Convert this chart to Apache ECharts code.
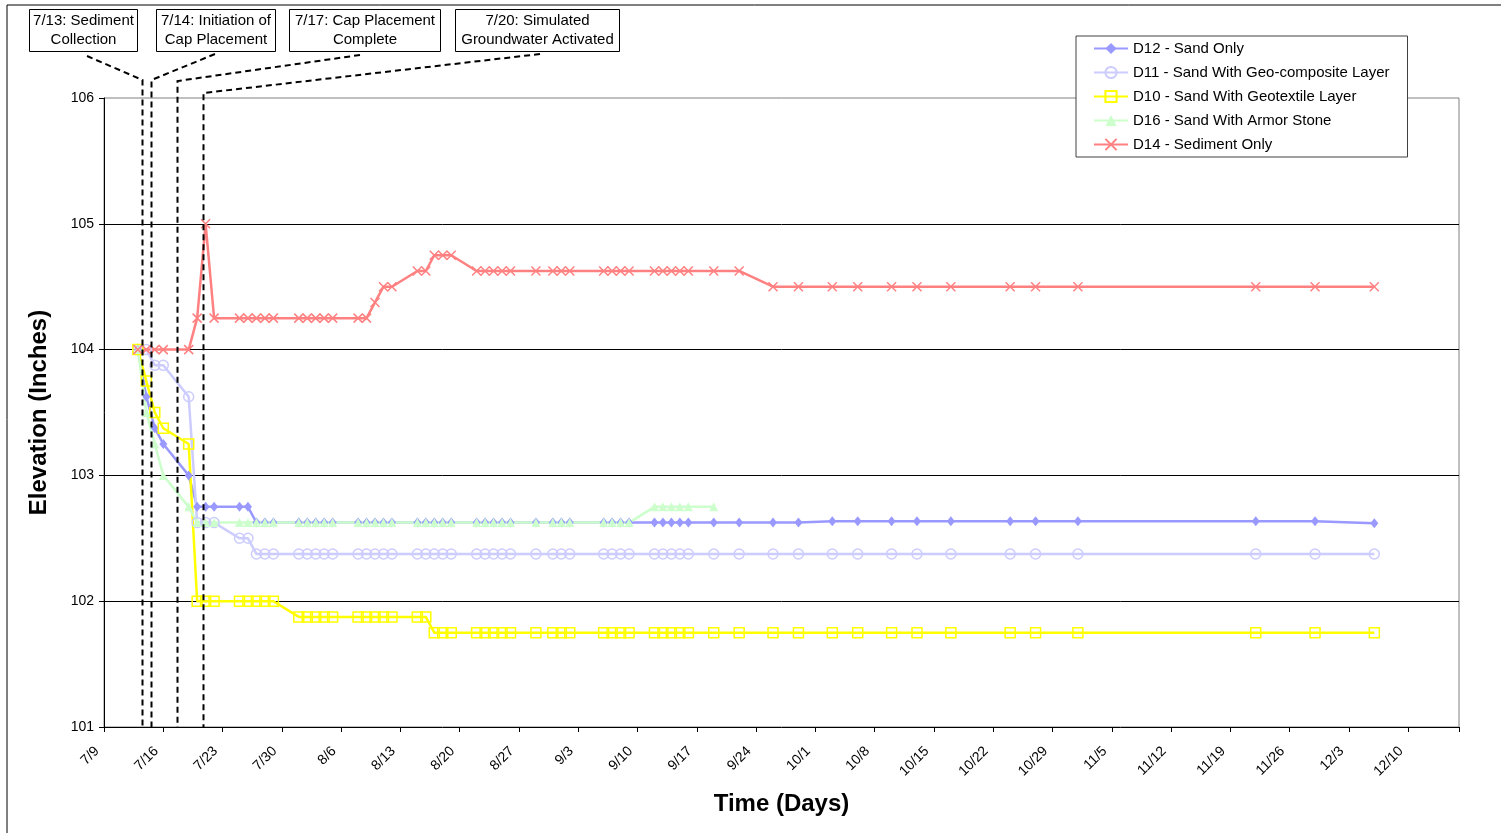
<!DOCTYPE html>
<html>
<head>
<meta charset="utf-8">
<script src="https://cdn.jsdelivr.net/npm/echarts@6/dist/echarts.min.js"></script>
<style>
html, body { margin: 0; padding: 0; background: #fff; }
#chart { width: 1501px; height: 833px; }
</style>
</head>
<body>
<div id="chart"></div>
<script>
// sample dates (2005), x axis counts days from 7/9
var startDate = Date.UTC(2005, 6, 9);
var sampleDates = ['7/13','7/14','7/15','7/16','7/19','7/20','7/21','7/22',
	'7/25','7/26','7/27','7/28','7/29','8/1','8/2','8/3','8/4','8/5',
	'8/8','8/9','8/10','8/11','8/12','8/15','8/16','8/17','8/18','8/19',
	'8/22','8/23','8/24','8/25','8/26','8/29','8/31','9/1','9/2',
	'9/6','9/7','9/8','9/9','9/12','9/13','9/14','9/15','9/16',
	'9/19','9/22','9/26','9/29','10/3','10/6','10/10','10/13','10/17',
	'10/24','10/27','11/1','11/22','11/29','12/6'];

var d12 = [104, 103.625, 103.375, 103.25, 103, 102.75, 102.75, 102.75,
	102.75, 102.75, 102.625, 102.625, 102.625, 102.625, 102.625, 102.625, 102.625, 102.625,
	102.625, 102.625, 102.625, 102.625, 102.625, 102.625, 102.625, 102.625, 102.625, 102.625,
	102.625, 102.625, 102.625, 102.625, 102.625, 102.625, 102.625, 102.625, 102.625,
	102.625, 102.625, 102.625, 102.625, 102.625, 102.625, 102.625, 102.625, 102.625,
	102.625, 102.625, 102.625, 102.625, 102.635, 102.635, 102.635, 102.635, 102.635,
	102.635, 102.635, 102.635, 102.635, 102.635, 102.62];
var d11 = [104, 104, 103.875, 103.875, 103.625, 102.625, 102.625, 102.625,
	102.5, 102.5, 102.375, 102.375, 102.375, 102.375, 102.375, 102.375, 102.375, 102.375,
	102.375, 102.375, 102.375, 102.375, 102.375, 102.375, 102.375, 102.375, 102.375, 102.375,
	102.375, 102.375, 102.375, 102.375, 102.375, 102.375, 102.375, 102.375, 102.375,
	102.375, 102.375, 102.375, 102.375, 102.375, 102.375, 102.375, 102.375, 102.375,
	102.375, 102.375, 102.375, 102.375, 102.375, 102.375, 102.375, 102.375, 102.375,
	102.375, 102.375, 102.375, 102.375, 102.375, 102.375];
var d10 = [104, 103.75, 103.5, 103.375, 103.25, 102, 102, 102,
	102, 102, 102, 102, 102, 101.875, 101.875, 101.875, 101.875, 101.875,
	101.875, 101.875, 101.875, 101.875, 101.875, 101.875, 101.875, 101.75, 101.75, 101.75,
	101.75, 101.75, 101.75, 101.75, 101.75, 101.75, 101.75, 101.75, 101.75,
	101.75, 101.75, 101.75, 101.75, 101.75, 101.75, 101.75, 101.75, 101.75,
	101.75, 101.75, 101.75, 101.75, 101.75, 101.75, 101.75, 101.75, 101.75,
	101.75, 101.75, 101.75, 101.75, 101.75, 101.75];
var d16 = [104, 103.5, 103.25, 103, 102.75, 102.625, 102.625, 102.625,
	102.625, 102.625, 102.625, 102.625, 102.625, 102.625, 102.625, 102.625, 102.625, 102.625,
	102.625, 102.625, 102.625, 102.625, 102.625, 102.625, 102.625, 102.625, 102.625, 102.625,
	102.625, 102.625, 102.625, 102.625, 102.625, 102.625, 102.625, 102.625, 102.625,
	102.625, 102.625, 102.625, 102.625, 102.75, 102.75, 102.75, 102.75, 102.75,
	102.75, null, null, null, null, null, null, null, null,
	null, null, null, null, null, null];
var d14 = [104, 104, 104, 104, 104, 104.25, 105, 104.25,
	104.25, 104.25, 104.25, 104.25, 104.25, 104.25, 104.25, 104.25, 104.25, 104.25,
	104.25, 104.25, 104.375, 104.5, 104.5, 104.625, 104.625, 104.75, 104.75, 104.75,
	104.625, 104.625, 104.625, 104.625, 104.625, 104.625, 104.625, 104.625, 104.625,
	104.625, 104.625, 104.625, 104.625, 104.625, 104.625, 104.625, 104.625, 104.625,
	104.625, 104.625, 104.5, 104.5, 104.5, 104.5, 104.5, 104.5, 104.5,
	104.5, 104.5, 104.5, 104.5, 104.5, 104.5];

var seriesNames = ['D12 - Sand Only', 'D11 - Sand With Geo-composite Layer',
	'D10 - Sand With Geotextile Layer', 'D16 - Sand With Armor Stone', 'D14 - Sediment Only'];

// event markers (days after 7/9) and their notes
var eventDays = [4.45, 5.5, 8.65, 11.7];
var eventText = ['7/13: Sediment\nCollection', '7/14: Initiation of\nCap Placement',
	'7/17: Cap Placement\nComplete', '7/20: Simulated\nGroundwater Activated'];

function dayOf(md) {
	var p = md.split('/');
	return Math.round((Date.UTC(2005, p[0] - 1, +p[1]) - startDate) / 86400000);
}
function labelOf(day) {
	var d = new Date(startDate + day * 86400000);
	return (d.getUTCMonth() + 1) + '/' + d.getUTCDate();
}
function pairs(vals) {
	return sampleDates.map(function (s, i) { return [dayOf(s), vals[i]]; });
}

var font = 'Liberation Sans, Arial, sans-serif';
var chart = echarts.init(document.getElementById('chart'));

function lineSeries(name, vals, color, symbol, size, filled) {
	return {
		name: name,
		type: 'line',
		data: pairs(vals),
		symbol: symbol,
		symbolSize: size,
		showAllSymbol: true,
		connectNulls: false,
		animation: false,
		lineStyle: { color: color, width: 2.5 },
		itemStyle: filled ?
			{ color: color, borderColor: color, borderWidth: 0 } :
			{ color: 'rgba(255,255,255,0)', borderColor: color, borderWidth: 1.5 },
		emphasis: { disabled: true }
	};
}

var option = {
	backgroundColor: '#fff',
	animation: false,
	textStyle: { fontFamily: font },
	grid: { left: 104, right: 42, top: 98, bottom: 106, show: true, borderColor: '#808080', borderWidth: 1 },
	legend: {
		orient: 'vertical',
		left: 1076,
		top: 36,
		padding: [5, 18, 5, 17],
		itemGap: 9,
		itemWidth: 34,
		itemHeight: 14,
		backgroundColor: '#fff',
		borderColor: '#404040',
		borderWidth: 1,
		borderRadius: 0,
		textStyle: { fontFamily: font, fontSize: 15, color: '#000' },
		data: seriesNames
	},
	xAxis: {
		type: 'value',
		min: 0,
		max: 160,
		interval: 7,
		name: 'Time (Days)',
		nameLocation: 'middle',
		nameGap: 65,
		nameTextStyle: { fontFamily: font, fontSize: 24, fontWeight: 'bold', color: '#000' },
		axisLine: { lineStyle: { color: '#000', width: 1 } },
		axisTick: { show: true, length: 5, lineStyle: { color: '#000' } },
		axisLabel: {
			rotate: 45,
			margin: 15,
			padding: [0, 10, 0, 0],
			fontFamily: font,
			fontSize: 14,
			color: '#000',
			formatter: function (v) { return v % 7 === 0 ? labelOf(v) : ''; }
		},
		splitLine: { show: false }
	},
	yAxis: {
		type: 'value',
		min: 101,
		max: 106,
		interval: 1,
		name: 'Elevation (Inches)',
		nameLocation: 'middle',
		nameGap: 53,
		nameTextStyle: { fontFamily: font, fontSize: 24, fontWeight: 'bold', color: '#000' },
		axisLine: { show: true, lineStyle: { color: '#000', width: 1 } },
		axisTick: { show: true, length: 5, lineStyle: { color: '#000' } },
		axisLabel: { fontFamily: font, fontSize: 14, color: '#000', margin: 10 },
		splitLine: { show: true, showMinLine: false, showMaxLine: false, lineStyle: { color: '#000', width: 1 } }
	},
	series: [
		lineSeries(seriesNames[0], d12, '#9999FF', 'diamond', [8, 10], true),
		lineSeries(seriesNames[1], d11, '#CCCCFF', 'circle', 10, false),
		lineSeries(seriesNames[2], d10, '#FFFF00', 'rect', 10, false),
		lineSeries(seriesNames[3], d16, '#CCFFCC', 'triangle', 9, true),
		lineSeries(seriesNames[4], d14, '#FF8080', 'path://M0,0L10,10M10,0L0,10', 9, false)
	]
};
chart.setOption(option);

// note boxes and dashed leaders, placed from the axis scale
var boxes = [
	{ x: 29, w: 108, anchor: [87, 56], top: 80 },
	{ x: 156, w: 119, anchor: [215, 54], top: 80 },
	{ x: 289, w: 151, anchor: [360, 55], top: 81 },
	{ x: 455, w: 164, anchor: [540, 54], top: 93 }
];
var bottomY = chart.convertToPixel({ yAxisIndex: 0 }, 101);
var graphics = [{
	type: 'rect', silent: true, z: -1,
	shape: { x: 7, y: 5, width: 1510, height: 840 },
	style: { fill: 'none', stroke: '#000', lineWidth: 1 }
}];
boxes.forEach(function (b, i) {
	var vx = Math.round(chart.convertToPixel({ xAxisIndex: 0 }, eventDays[i])) + 0.5;
	graphics.push({
		type: 'polyline', silent: true, z: 50,
		shape: { points: [b.anchor, [vx, b.top], [vx, bottomY]] },
		style: { stroke: '#000', lineWidth: 2, lineDash: [6, 4], fill: null }
	});
	graphics.push({
		type: 'rect', silent: true, z: 50,
		shape: { x: b.x + 0.5, y: 9.5, width: b.w, height: 42 },
		style: { fill: '#fff', stroke: '#000', lineWidth: 1 }
	});
	graphics.push({
		type: 'text', silent: true, z: 51,
		x: b.x + b.w / 2 + 0.5, y: 30.5,
		style: {
			text: eventText[i], fill: '#000', font: '15px ' + font,
			align: 'center', verticalAlign: 'middle', lineHeight: 19
		}
	});
});
chart.setOption({ graphic: graphics });
</script>
</body>
</html>
